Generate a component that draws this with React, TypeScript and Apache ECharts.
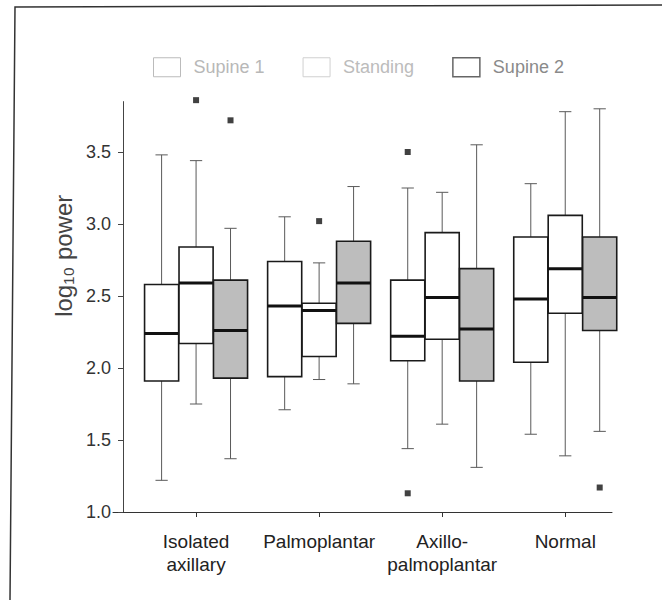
import React, { useEffect, useRef } from "react";
import * as echarts from "echarts";

// ---- data ----
const categories = ["Isolated\naxillary", "Palmoplantar", "Axillo-\npalmoplantar", "Normal"];
const seriesNames = ["Supine 1", "Standing", "Supine 2"];
// [min, Q1, median, Q3, max] for each category
const supine1 = [
  [1.22, 1.91, 2.24, 2.58, 3.48],
  [1.71, 1.94, 2.43, 2.74, 3.05],
  [1.44, 2.05, 2.22, 2.61, 3.25],
  [1.54, 2.04, 2.48, 2.91, 3.28],
];
const standing = [
  [1.75, 2.17, 2.59, 2.84, 3.44],
  [1.92, 2.08, 2.40, 2.45, 2.73],
  [1.61, 2.20, 2.49, 2.94, 3.22],
  [1.39, 2.38, 2.69, 3.06, 3.78],
];
const supine2 = [
  [1.37, 1.93, 2.26, 2.61, 2.97],
  [1.89, 2.31, 2.59, 2.88, 3.26],
  [1.31, 1.91, 2.27, 2.69, 3.55],
  [1.56, 2.26, 2.49, 2.91, 3.80],
];
// outliers: [category index, value]
const supine1Outliers = [[2, 3.50], [2, 1.13]];
const standingOutliers = [[0, 3.86], [1, 3.02]];
const supine2Outliers = [[0, 3.72], [3, 1.17]];
const yTicks = [1.0, 1.5, 2.0, 2.5, 3.0, 3.5];
const xTicks = [0, 1, 2, 3];

// ---- layout / style ----
const OFFSETS = [-0.28, 0, 0.28];
const BOX_W = 0.277;
const FILLS = ["#ffffff", "#ffffff", "#bdbdbd"];
const FONT = "Liberation Sans, Arial, sans-serif";

function makeRender(offset: number, fill: string) {
  return (params: any, api: any) => {
    const c = api.value(0) + offset;
    const lo = api.coord([c, api.value(1)]);
    const q1 = api.coord([c, api.value(2)]);
    const md = api.coord([c, api.value(3)]);
    const q3 = api.coord([c, api.value(4)]);
    const hi = api.coord([c, api.value(5)]);
    const w = api.size([BOX_W, 0])[0];
    const cap = w * 0.36;
    const x = lo[0];
    const wStyle = { stroke: "#5a5a5a", lineWidth: 1 };
    return {
      type: "group",
      children: [
        { type: "line", shape: { x1: x, y1: hi[1], x2: x, y2: q3[1] }, style: wStyle },
        { type: "line", shape: { x1: x, y1: q1[1], x2: x, y2: lo[1] }, style: wStyle },
        { type: "line", shape: { x1: x - cap / 2, y1: hi[1], x2: x + cap / 2, y2: hi[1] }, style: wStyle },
        { type: "line", shape: { x1: x - cap / 2, y1: lo[1], x2: x + cap / 2, y2: lo[1] }, style: wStyle },
        {
          type: "rect",
          shape: { x: x - w / 2, y: q3[1], width: w, height: q1[1] - q3[1] },
          style: { fill, stroke: "#1a1a1a", lineWidth: 1.6 },
        },
        {
          type: "line",
          shape: { x1: x - w / 2, y1: md[1], x2: x + w / 2, y2: md[1] },
          style: { stroke: "#111", lineWidth: 3 },
        },
      ],
    };
  };
}

export default function App() {
  const ref = useRef<HTMLDivElement>(null);
  useEffect(() => {
    if (!ref.current) return;
    const chart = echarts.init(ref.current, undefined, { renderer: "svg" });
    const boxSets = [supine1, standing, supine2];
    const outlierSets = [supine1Outliers, standingOutliers, supine2Outliers];
    const series: any[] = [];
    boxSets.forEach((set, si) => {
      series.push({
        type: "custom",
        name: seriesNames[si],
        renderItem: makeRender(OFFSETS[si], FILLS[si]),
        encode: { x: 0, y: [1, 2, 3, 4, 5] },
        data: set.map((v, i) => [i, ...v]),
        clip: false,
        z: 2,
      });
    });
    outlierSets.forEach((set, si) => {
      series.push({
        type: "scatter",
        name: seriesNames[si],
        symbol: "rect",
        symbolSize: 6,
        clip: false,
        itemStyle: { color: "#111" },
        data: set.map(([c, v]) => [c + OFFSETS[si], v]),
        z: 3,
      });
    });
    chart.setOption({
      animation: false,
      backgroundColor: "#ffffff",
      textStyle: { fontFamily: FONT },
      legend: {
        left: 153,
        top: 57,
        padding: 0,
        itemWidth: 27,
        itemHeight: 19,
        itemGap: 38,
        selectedMode: false,
        textStyle: { fontSize: 18, fontFamily: FONT, padding: [0, 0, 0, 8] },
        data: [
          { name: seriesNames[0], icon: "rect", itemStyle: { color: "#fff", borderColor: "#bbb", borderWidth: 1 }, textStyle: { color: "#b8b8b8" } },
          { name: seriesNames[1], icon: "rect", itemStyle: { color: "#fff", borderColor: "#d0d0d0", borderWidth: 1 }, textStyle: { color: "#bcbcbc" } },
          { name: seriesNames[2], icon: "rect", itemStyle: { color: "#fff", borderColor: "#666", borderWidth: 1.5 }, textStyle: { color: "#8a8a8a" } },
        ],
      },
      grid: { left: 113, top: 101.6, width: 499, height: 410.4, outerBoundsMode: "none" },
      xAxis: {
        type: "value",
        min: -0.675,
        max: 3.38,
        splitLine: { show: false },
        axisLine: { onZero: false, lineStyle: { color: "#333", width: 1 } },
        axisTick: { customValues: xTicks, length: 5, lineStyle: { color: "#333" } },
        axisLabel: {
          customValues: xTicks,
          formatter: (v: number) => categories[Math.round(v)],
          fontSize: 19,
          lineHeight: 23,
          color: "#222",
          margin: 18,
          fontFamily: FONT,
        },
      },
      yAxis: {
        type: "value",
        min: 1,
        max: 3.85,
        interval: 0.5,
        offset: -10,
        splitLine: { show: false },
        axisLine: { show: true, onZero: false, lineStyle: { color: "#444", width: 1 } },
        axisTick: { show: true, customValues: yTicks, length: 5, lineStyle: { color: "#444" } },
        axisLabel: {
          customValues: yTicks,
          formatter: (v: number) => v.toFixed(1),
          fontSize: 18,
          color: "#333",
          margin: 12,
          fontFamily: FONT,
        },
        name: "log\u2081\u2080 power",
        nameLocation: "middle",
        nameGap: 46,
        nameTextStyle: { fontSize: 24, color: "#444", fontFamily: FONT, padding: [0, 0, 0, 102] },
      },
      graphic: [
        {
          type: "polyline",
          shape: { points: [[10, 600], [15, 7], [662, 5]] },
          style: { stroke: "#333", lineWidth: 1.5, fill: null },
          silent: true,
        },
      ],
      series,
    });
    return () => chart.dispose();
  }, []);
  return (
    <div
      ref={ref}
      style={{ position: "fixed", left: 0, top: 0, width: 662, height: 600, background: "#fff" }}
    />
  );
}
